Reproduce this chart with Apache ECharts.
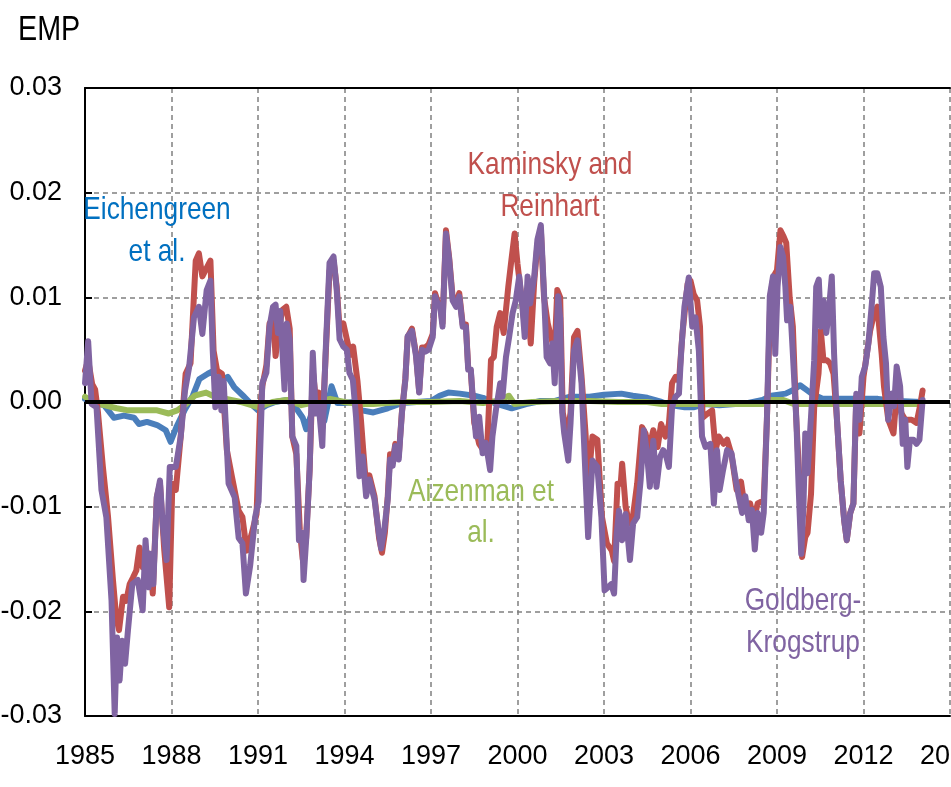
<!DOCTYPE html>
<html><head><meta charset="utf-8">
<script src="https://cdn.jsdelivr.net/npm/echarts@6/dist/echarts.min.js"></script>
<style>html,body{margin:0;padding:0;background:#fff}#c{width:951px;height:787px}</style>
</head><body><div id="c"></div>
<script>
var xTicks = [1985, 1988, 1991, 1994, 1997, 2000, 2003, 2006, 2009, 2012, 2015];
var yTicks = [-0.03, -0.02, -0.01, 0.00, 0.01, 0.02, 0.03];

// Goldberg-Krogstrup
var gk = [[1985.00,0.0018],[1985.11,0.0058],[1985.23,-0.0002],[1985.40,-0.0005],[1985.57,-0.0084],[1985.74,-0.0110],[1985.92,-0.0190],[1986.03,-0.0298],[1986.11,-0.0225],[1986.20,-0.0266],[1986.29,-0.0228],[1986.39,-0.0250],[1986.49,-0.0218],[1986.64,-0.0174],[1986.83,-0.0170],[1987.00,-0.0199],[1987.10,-0.0132],[1987.21,-0.0177],[1987.29,-0.0145],[1987.37,-0.0174],[1987.49,-0.0091],[1987.60,-0.0075],[1987.69,-0.0116],[1987.83,-0.0151],[1987.94,-0.0062],[1988.15,-0.0062],[1988.32,-0.0033],[1988.47,0.0011],[1988.61,0.0033],[1988.78,0.0081],[1988.95,0.0091],[1989.07,0.0065],[1989.22,0.0107],[1989.35,0.0116],[1989.43,0.0049],[1989.52,-0.0005],[1989.64,0.0024],[1989.73,-0.0008],[1989.81,0.0020],[1989.98,-0.0078],[1990.19,-0.0091],[1990.33,-0.0130],[1990.46,-0.0135],[1990.58,-0.0183],[1990.73,-0.0156],[1990.90,-0.0110],[1991.02,-0.0095],[1991.15,0.0018],[1991.29,0.0028],[1991.40,0.0072],[1991.52,0.0091],[1991.61,0.0093],[1991.69,0.0066],[1991.77,0.0087],[1991.92,0.0012],[1992.00,0.0075],[1992.10,0.0060],[1992.19,-0.0033],[1992.33,-0.0042],[1992.42,-0.0132],[1992.53,-0.0125],[1992.58,-0.0170],[1992.67,-0.0132],[1992.79,-0.0065],[1992.90,0.0047],[1993.00,-0.0011],[1993.11,-0.0004],[1993.23,-0.0042],[1993.34,0.0044],[1993.48,0.0133],[1993.62,0.0139],[1993.73,0.0107],[1993.83,0.0060],[1993.96,0.0053],[1994.08,0.0050],[1994.17,0.0028],[1994.29,0.0021],[1994.40,-0.0014],[1994.52,-0.0071],[1994.63,-0.0052],[1994.75,-0.0090],[1994.86,-0.0074],[1995.04,-0.0093],[1995.19,-0.0125],[1995.27,-0.0140],[1995.38,-0.0122],[1995.50,-0.0093],[1995.58,-0.0055],[1995.67,-0.0061],[1995.76,-0.0042],[1995.88,-0.0055],[1995.99,-0.0011],[1996.11,0.0021],[1996.19,0.0063],[1996.34,0.0068],[1996.48,0.0044],[1996.59,0.0009],[1996.69,0.0050],[1996.80,0.0048],[1996.92,0.0050],[1997.06,0.0062],[1997.14,0.0101],[1997.23,0.0094],[1997.32,0.0091],[1997.40,0.0072],[1997.52,0.0161],[1997.63,0.0136],[1997.75,0.0097],[1997.87,0.0091],[1997.98,0.0101],[1998.10,0.0072],[1998.21,0.0072],[1998.29,0.0031],[1998.38,0.0031],[1998.48,-0.0008],[1998.56,-0.0033],[1998.67,-0.0014],[1998.79,-0.0049],[1998.90,-0.0039],[1999.05,-0.0065],[1999.13,-0.0033],[1999.25,-0.0008],[1999.40,0.0018],[1999.48,0.0005],[1999.60,0.0043],[1999.71,0.0062],[1999.83,0.0085],[1999.94,0.0097],[2000.06,0.0120],[2000.17,0.0091],[2000.25,0.0062],[2000.35,0.0120],[2000.44,0.0094],[2000.58,0.0120],[2000.69,0.0155],[2000.81,0.0169],[2000.92,0.0104],[2001.01,0.0043],[2001.13,0.0037],[2001.21,0.0056],[2001.29,0.0018],[2001.41,0.0101],[2001.48,0.0080],[2001.55,-0.0010],[2001.62,-0.0030],[2001.76,-0.0056],[2001.84,-0.0020],[2001.96,0.0049],[2002.08,0.0059],[2002.22,0.0018],[2002.33,-0.0053],[2002.45,-0.0129],[2002.60,-0.0056],[2002.77,-0.0062],[2002.91,-0.0110],[2003.02,-0.0180],[2003.14,-0.0177],[2003.25,-0.0174],[2003.35,-0.0183],[2003.44,-0.0126],[2003.52,-0.0104],[2003.63,-0.0132],[2003.75,-0.0107],[2003.90,-0.0151],[2004.01,-0.0116],[2004.15,-0.0110],[2004.27,-0.0075],[2004.38,-0.0027],[2004.48,-0.0046],[2004.59,-0.0081],[2004.71,-0.0037],[2004.82,-0.0081],[2004.94,-0.0053],[2005.05,-0.0046],[2005.13,-0.0049],[2005.25,-0.0062],[2005.36,-0.0005],[2005.48,0.0005],[2005.60,0.0008],[2005.68,0.0049],[2005.79,0.0091],[2005.94,0.0119],[2006.06,0.0072],[2006.17,0.0081],[2006.29,0.0049],[2006.40,-0.0033],[2006.52,-0.0043],[2006.69,-0.0040],[2006.81,-0.0097],[2006.92,-0.0046],[2007.01,-0.0084],[2007.13,-0.0065],[2007.27,-0.0046],[2007.42,-0.0049],[2007.53,-0.0068],[2007.67,-0.0090],[2007.79,-0.0106],[2007.90,-0.0090],[2008.02,-0.0113],[2008.13,-0.0103],[2008.23,-0.0141],[2008.33,-0.0106],[2008.45,-0.0125],[2008.54,-0.0106],[2008.65,-0.0017],[2008.75,0.0101],[2008.86,0.0120],[2008.94,0.0046],[2009.02,0.0110],[2009.12,0.0148],[2009.21,0.0139],[2009.29,0.0110],[2009.35,0.0078],[2009.46,0.0091],[2009.55,0.0046],[2009.67,-0.0017],[2009.75,-0.0081],[2009.84,-0.0145],[2009.92,-0.0097],[2009.98,-0.0030],[2010.06,-0.0068],[2010.18,-0.0014],[2010.29,0.0040],[2010.36,0.0110],[2010.45,0.0117],[2010.52,0.0072],[2010.61,0.0097],[2010.71,0.0066],[2010.79,0.0085],[2010.90,0.0120],[2010.98,0.0046],[2011.08,-0.0017],[2011.21,-0.0075],[2011.33,-0.0113],[2011.42,-0.0132],[2011.54,-0.0106],[2011.65,-0.0097],[2011.75,0.0008],[2011.86,-0.0017],[2011.94,0.0024],[2012.06,0.0034],[2012.17,0.0056],[2012.29,0.0094],[2012.37,0.0123],[2012.48,0.0123],[2012.60,0.0110],[2012.69,0.0062],[2012.78,0.0037],[2012.86,-0.0017],[2012.98,0.0008],[2013.06,-0.0004],[2013.15,0.0034],[2013.27,0.0015],[2013.36,-0.0040],[2013.45,-0.0017],[2013.52,-0.0062],[2013.61,-0.0036],[2013.73,-0.0036],[2013.84,-0.0040],[2013.94,-0.0036],[2014.05,0.0002]];

// Kaminsky and Reinhart
var kr = [[1985.00,0.0030],[1985.11,0.0040],[1985.25,0.0017],[1985.35,0.0012],[1985.45,-0.0010],[1985.62,-0.0062],[1985.80,-0.0110],[1985.97,-0.0170],[1986.08,-0.0205],[1986.18,-0.0218],[1986.32,-0.0186],[1986.43,-0.0190],[1986.55,-0.0174],[1986.66,-0.0168],[1986.78,-0.0161],[1986.89,-0.0139],[1987.00,-0.0158],[1987.12,-0.0142],[1987.24,-0.0148],[1987.35,-0.0183],[1987.49,-0.0091],[1987.60,-0.0078],[1987.75,-0.0142],[1987.92,-0.0196],[1988.03,-0.0078],[1988.15,-0.0084],[1988.32,-0.0033],[1988.49,0.0027],[1988.66,0.0037],[1988.84,0.0135],[1988.95,0.0142],[1989.07,0.0120],[1989.18,0.0126],[1989.35,0.0135],[1989.46,0.0049],[1989.58,0.0030],[1989.75,0.0027],[1989.92,-0.0046],[1990.10,-0.0072],[1990.33,-0.0104],[1990.46,-0.0110],[1990.61,-0.0142],[1990.78,-0.0126],[1990.95,-0.0107],[1991.07,-0.0010],[1991.15,0.0015],[1991.29,0.0035],[1991.40,0.0075],[1991.52,0.0080],[1991.61,0.0044],[1991.72,0.0070],[1991.85,0.0088],[1991.98,0.0091],[1992.10,0.0070],[1992.19,-0.0033],[1992.33,-0.0050],[1992.45,-0.0122],[1992.55,-0.0150],[1992.67,-0.0130],[1992.79,-0.0065],[1992.90,0.0030],[1993.00,0.0005],[1993.11,0.0009],[1993.23,-0.0025],[1993.34,0.0040],[1993.48,0.0125],[1993.62,0.0135],[1993.73,0.0110],[1993.83,0.0070],[1993.96,0.0075],[1994.08,0.0060],[1994.20,0.0045],[1994.30,0.0053],[1994.45,0.0020],[1994.57,-0.0017],[1994.65,-0.0046],[1994.75,-0.0080],[1994.86,-0.0070],[1995.04,-0.0090],[1995.20,-0.0130],[1995.30,-0.0144],[1995.40,-0.0125],[1995.50,-0.0090],[1995.58,-0.0050],[1995.67,-0.0058],[1995.76,-0.0040],[1995.88,-0.0052],[1995.99,-0.0010],[1996.11,0.0022],[1996.19,0.0062],[1996.34,0.0070],[1996.48,0.0046],[1996.59,0.0010],[1996.69,0.0052],[1996.80,0.0052],[1996.92,0.0055],[1997.06,0.0065],[1997.14,0.0104],[1997.23,0.0096],[1997.32,0.0093],[1997.40,0.0075],[1997.52,0.0164],[1997.63,0.0138],[1997.75,0.0100],[1997.87,0.0094],[1997.98,0.0104],[1998.10,0.0074],[1998.21,0.0074],[1998.29,0.0033],[1998.38,0.0030],[1998.50,-0.0020],[1998.67,-0.0040],[1998.79,-0.0045],[1998.96,-0.0036],[1999.08,0.0040],[1999.18,0.0043],[1999.28,0.0072],[1999.40,0.0085],[1999.52,0.0066],[1999.68,0.0110],[1999.79,0.0136],[1999.90,0.0161],[2000.00,0.0132],[2000.12,0.0104],[2000.23,0.0078],[2000.35,0.0094],[2000.46,0.0056],[2000.58,0.0115],[2000.69,0.0150],[2000.81,0.0165],[2000.92,0.0100],[2001.05,0.0075],[2001.18,0.0060],[2001.29,0.0050],[2001.38,0.0107],[2001.48,0.0100],[2001.57,-0.0010],[2001.73,-0.0033],[2001.84,-0.0010],[2001.96,0.0062],[2002.08,0.0068],[2002.22,0.0025],[2002.36,-0.0030],[2002.45,-0.0078],[2002.60,-0.0033],[2002.77,-0.0036],[2002.93,-0.0110],[2003.10,-0.0135],[2003.27,-0.0142],[2003.35,-0.0152],[2003.47,-0.0078],[2003.58,-0.0078],[2003.63,-0.0059],[2003.75,-0.0100],[2003.87,-0.0116],[2004.00,-0.0110],[2004.15,-0.0078],[2004.32,-0.0024],[2004.44,-0.0030],[2004.55,-0.0046],[2004.71,-0.0027],[2004.86,-0.0043],[2004.98,-0.0021],[2005.13,-0.0033],[2005.25,-0.0021],[2005.36,0.0018],[2005.48,0.0024],[2005.60,0.0020],[2005.72,0.0065],[2005.90,0.0113],[2006.00,0.0116],[2006.11,0.0103],[2006.23,0.0097],[2006.33,0.0072],[2006.42,-0.0015],[2006.60,-0.0011],[2006.75,-0.0008],[2006.87,-0.0046],[2006.98,-0.0033],[2007.15,-0.0040],[2007.27,-0.0036],[2007.42,-0.0050],[2007.60,-0.0084],[2007.75,-0.0076],[2007.90,-0.0104],[2008.07,-0.0097],[2008.19,-0.0113],[2008.33,-0.0097],[2008.54,-0.0094],[2008.65,-0.0017],[2008.77,0.0101],[2008.88,0.0120],[2009.00,0.0126],[2009.12,0.0164],[2009.23,0.0158],[2009.32,0.0152],[2009.44,0.0100],[2009.55,0.0072],[2009.67,-0.0017],[2009.79,-0.0081],[2009.87,-0.0148],[2009.98,-0.0129],[2010.06,-0.0125],[2010.18,-0.0088],[2010.29,-0.0005],[2010.44,0.0027],[2010.52,0.0068],[2010.61,0.0040],[2010.73,0.0040],[2010.84,0.0037],[2010.96,0.0027],[2011.08,-0.0017],[2011.21,-0.0075],[2011.33,-0.0113],[2011.42,-0.0132],[2011.54,-0.0106],[2011.65,-0.0097],[2011.75,0.0005],[2011.86,-0.0030],[2012.00,0.0024],[2012.23,0.0068],[2012.37,0.0085],[2012.48,0.0091],[2012.63,0.0046],[2012.71,0.0015],[2012.86,-0.0017],[2013.04,-0.0030],[2013.15,0.0008],[2013.32,-0.0011],[2013.45,-0.0017],[2013.52,-0.0017],[2013.67,-0.0017],[2013.84,-0.0020],[2013.96,-0.0004],[2014.05,0.0011]];

// Eichengreen et al.
var eich = [[1985.00,0.0003],[1985.30,-0.0001],[1985.66,-0.0003],[1986.00,-0.0015],[1986.35,-0.0013],[1986.70,-0.0015],[1986.87,-0.0021],[1987.15,-0.0019],[1987.50,-0.0022],[1987.80,-0.0027],[1987.97,-0.0038],[1988.17,-0.0024],[1988.45,-0.0008],[1988.74,0.0006],[1988.97,0.0022],[1989.26,0.0027],[1989.40,0.0029],[1989.60,0.0019],[1989.95,0.0024],[1990.18,0.0014],[1990.52,0.0005],[1990.80,-0.0003],[1991.00,-0.0008],[1991.30,-0.0003],[1991.60,0.0000],[1992.00,0.0002],[1992.30,-0.0005],[1992.55,-0.0015],[1992.67,-0.0026],[1992.85,-0.0012],[1993.00,-0.0008],[1993.30,-0.0018],[1993.55,0.0015],[1993.75,-0.0001],[1994.00,-0.0001],[1994.30,0.0000],[1994.60,-0.0008],[1995.00,-0.0010],[1995.50,-0.0006],[1996.00,-0.0001],[1996.50,0.0000],[1997.00,0.0001],[1997.30,0.0006],[1997.60,0.0009],[1998.00,0.0008],[1998.50,0.0006],[1998.80,0.0004],[1999.20,-0.0001],[1999.80,-0.0006],[2000.30,-0.0002],[2000.80,0.0001],[2001.30,0.0001],[2001.80,0.0005],[2002.50,0.0005],[2003.00,0.0007],[2003.60,0.0008],[2004.00,0.0006],[2004.50,0.0004],[2005.00,0.0000],[2005.30,-0.0003],[2005.80,-0.0005],[2006.10,-0.0005],[2006.50,-0.0002],[2007.00,-0.0003],[2008.00,-0.0001],[2008.50,0.0002],[2008.80,0.0006],[2009.30,0.0008],[2009.60,0.0012],[2009.80,0.0016],[2010.00,0.0012],[2010.20,0.0008],[2010.60,0.0003],[2011.50,0.0003],[2012.50,0.0003],[2013.20,0.0001],[2014.00,0.0000]];

// Aizenman et al.
var aiz = [[1985.00,0.0005],[1985.30,0.0000],[1985.66,-0.0003],[1986.10,-0.0006],[1986.50,-0.0008],[1987.00,-0.0008],[1987.50,-0.0008],[1987.90,-0.0011],[1988.20,-0.0008],[1988.50,-0.0002],[1988.80,0.0006],[1989.20,0.0009],[1989.50,0.0005],[1989.90,0.0003],[1990.40,0.0000],[1991.00,-0.0005],[1991.50,0.0000],[1992.00,0.0002],[1992.50,-0.0003],[1993.00,0.0000],[1993.50,0.0003],[1994.00,0.0000],[1994.50,-0.0002],[1995.00,-0.0002],[1996.00,0.0000],[1997.00,0.0000],[1998.00,0.0001],[1998.80,-0.0001],[1999.30,0.0001],[1999.70,0.0006],[1999.90,-0.0002],[2000.50,0.0000],[2001.50,0.0001],[2002.50,0.0001],[2003.50,0.0000],[2004.50,0.0000],[2005.00,-0.0002],[2006.00,-0.0002],[2007.00,-0.0002],[2008.50,-0.0002],[2008.80,0.0002],[2009.20,0.0002],[2009.60,-0.0002],[2011.00,-0.0002],[2013.00,-0.0002],[2014.00,-0.0002]];

var FONT = "'Liberation Sans',Arial,sans-serif";
var chart = echarts.init(document.getElementById('c'), null, {renderer:'canvas'});
function ln(name, data, color){
  return {name:name, type:'line', data:data, showSymbol:false, symbol:'none', smooth:false,
    lineStyle:{color:color, width:6, join:'round', cap:'round'}, itemStyle:{color:color}, z:3};
}
function note(x, y, text, color){
  return {type:'text', x:x, y:y, scaleX:0.82, z:10,
    style:{text:text, font:"32px "+FONT, fill:color, textAlign:'center', textVerticalAlign:'middle'}};
}
chart.setOption({
  animation:false,
  backgroundColor:'#fff',
  grid:{left:85, right:1, top:88, bottom:71, containLabel:false, outerBoundsMode:'none'},
  xAxis:[{type:'value', min:xTicks[0], max:xTicks[xTicks.length-1], interval:3, position:'bottom',
    axisLine:{show:true, onZero:false, lineStyle:{color:'#000', width:2}},
    axisTick:{show:false},
    axisLabel:{color:'#000', fontSize:27, fontFamily:FONT, margin:27, showMaxLabel:true, hideOverlap:false, formatter:function(v){return String(v);}},
    splitLine:{show:true, lineStyle:{color:'#808080', width:1.5, type:[5,4]}}},
   {type:'value', min:xTicks[0], max:xTicks[xTicks.length-1], position:'top',
    axisLine:{show:true, onZero:false, lineStyle:{color:'#000', width:2}},
    axisTick:{show:false}, axisLabel:{show:false}, splitLine:{show:false}}],
  yAxis:{type:'value', min:yTicks[0], max:yTicks[yTicks.length-1], interval:0.01,
    axisLine:{show:true, onZero:false, lineStyle:{color:'#000', width:2}},
    axisTick:{show:true, inside:true, length:7, lineStyle:{color:'#000', width:2}},
    axisLabel:{color:'#000', fontSize:27, fontFamily:FONT, margin:23, formatter:function(v){return (Math.round(v*100)/100).toFixed(2);}},
    splitLine:{show:true, lineStyle:{color:'#808080', width:1.5, type:[5,4]}}},
  series:[
    {type:'line', data:[], z:2, silent:true,
      markLine:{silent:true, symbol:['none','none'], label:{show:false}, animation:false,
        lineStyle:{color:'#000', width:4, type:'solid'}, data:[{yAxis:0}]}},
    ln('Eichengreen et al.', eich, '#4A7EBB'),
    ln('Aizenman et al.', aiz, '#9BBB59'),
    ln('Kaminsky and Reinhart', kr, '#C0504D'),
    ln('Goldberg-Krogstrup', gk, '#8064A2')
  ],
  graphic:[
    {type:'text', x:18, y:30, scaleX:0.82, style:{text:'EMP', font:"35px "+FONT, fill:'#000', textVerticalAlign:'middle'}},
    note(550, 165, 'Kaminsky and', '#C0504D'),
    note(550, 207, 'Reinhart', '#C0504D'),
    note(157, 210, 'Eichengreen', '#0070C0'),
    note(157, 252, 'et al.', '#0070C0'),
    note(481, 492, 'Aizenman et', '#9BBB59'),
    note(481, 533, 'al.', '#9BBB59'),
    note(803, 601, 'Goldberg-', '#8064A2'),
    note(803, 643, 'Krogstrup', '#8064A2')
  ]
});
</script></body></html>
